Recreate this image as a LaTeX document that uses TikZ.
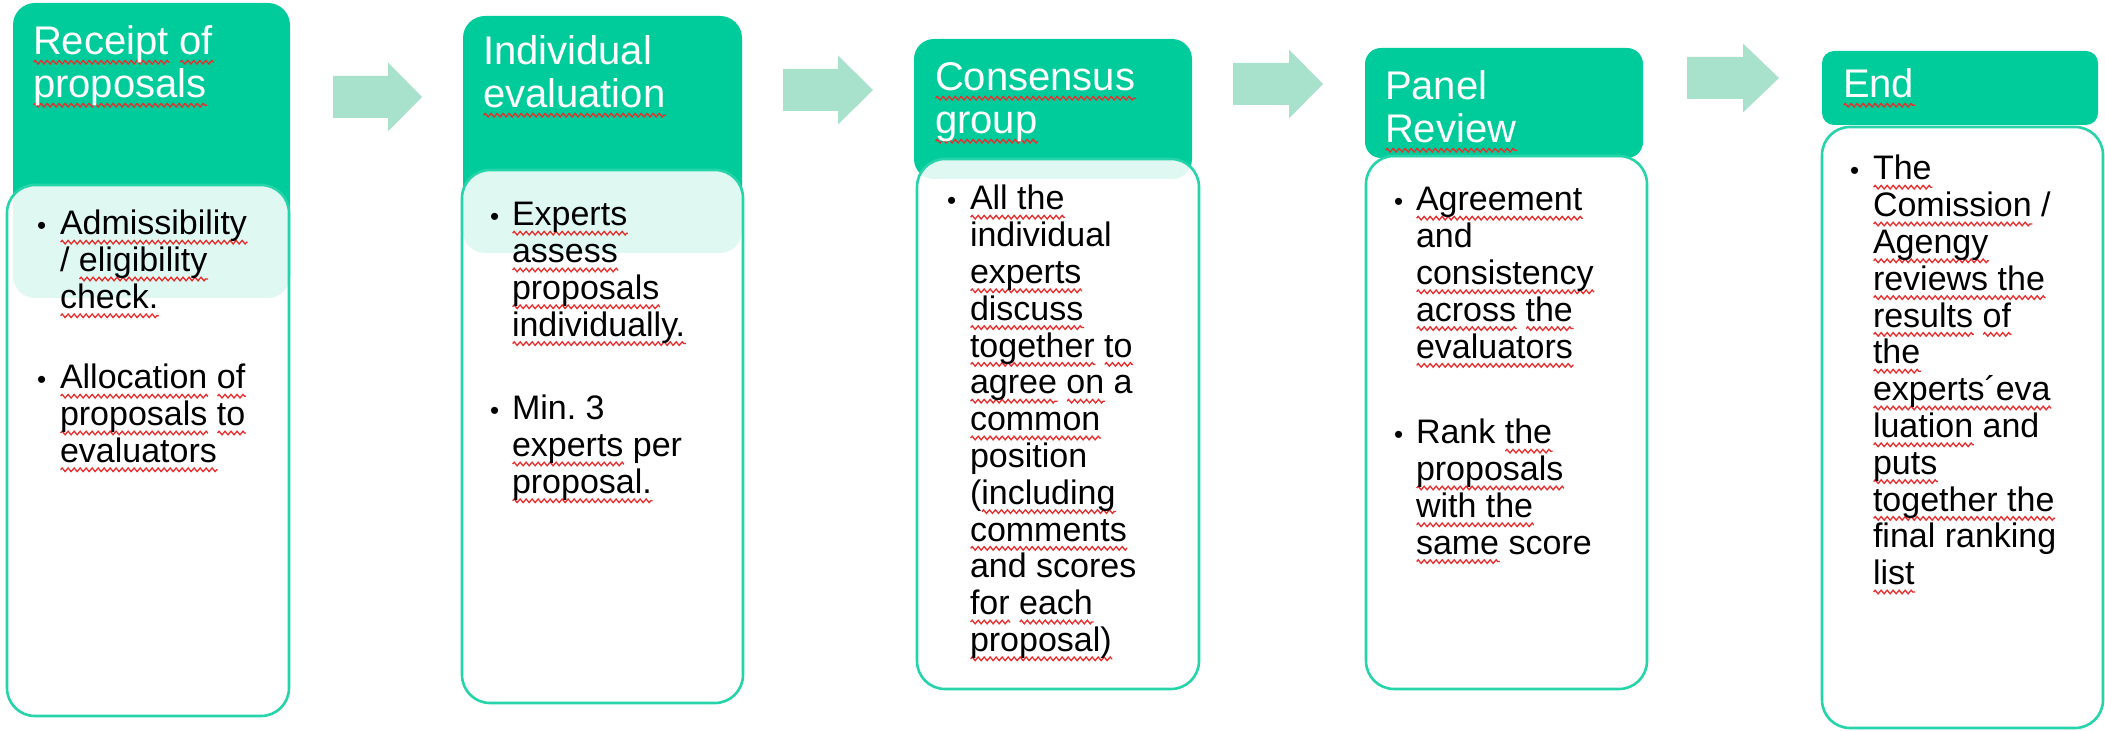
\documentclass[tikz,border=0pt]{standalone}
\usepackage{fontspec}
\setmainfont{Liberation Sans}
\usetikzlibrary{decorations.pathmorphing}
\definecolor{hdr}{RGB}{0,204,155}
\definecolor{edge}{RGB}{38,212,170}
\definecolor{arr}{RGB}{168,226,204}
\definecolor{sq}{RGB}{235,45,45}
\newlength\rwlen
\newcommand\rw[1]{\leavevmode\settowidth\rwlen{#1}\rlap{\tikz[baseline=0pt,x=1pt,y=1pt]\draw[sq,line width=0.65pt,decorate,decoration={zigzag,amplitude=0.9pt,segment length=3pt}] (0pt,-3.6pt) -- (\rwlen,-3.6pt);}#1}
\newcommand\txt[1]{\vtop{\hsize=200pt\parindent=0pt\parskip=0pt\raggedright\frenchspacing\leavevmode #1\par}}
\newcommand\barrow[4]{\fill[arr] (#1,#4-21) -- (#2,#4-21) -- (#2,#4-34.5) -- (#3,#4) -- (#2,#4+34.5) -- (#2,#4+21) -- (#1,#4+21) -- cycle;}
\tikzset{
  hdrbox/.style={fill=hdr},
  bodybox/.style={fill=white, fill opacity=0.88, draw=edge, draw opacity=1, line width=1.3pt, rounded corners=14pt},
  bodytext/.style={anchor=base west, inner sep=0pt, outer sep=0pt, text=black, font=\fontsize{17pt}{18.4pt}\selectfont},
  titletext/.style={anchor=base west, inner sep=0pt, outer sep=0pt, text=white, font=\fontsize{20pt}{21.5pt}\selectfont},
  bul/.style={anchor=base west, inner sep=0pt, outer sep=0pt, text=black, font=\fontsize{13pt}{13pt}\selectfont}
}
\begin{document}
\begin{tikzpicture}[x=0.5pt,y=-0.5pt]
\useasboundingbox (0,0) rectangle (2105,731);
% arrows
\barrow{333}{388}{422}{97}
\barrow{783}{838}{873}{90}
\barrow{1233}{1289}{1323}{84}
\barrow{1687}{1743}{1779}{78}
% box 1
\path[hdrbox, rounded corners=11pt] (13,3) rectangle (290,298);
\path[bodybox] (7,185) rectangle (289,716);
\node[titletext] (t1) at (33,55) {\txt{\rw{Receipt} \rw{of}\\\rw{proposals}}};
\node[bul] (b11) at (37,235) {•};
\node[bodytext] (p11) at (60,235) {\txt{\rw{Admissibility}\\/ \rw{eligibility}\\\rw{check.}}};
\node[bul] (b12) at (37,389) {•};
\node[bodytext] (p12) at (60,389) {\txt{\rw{Allocation} \rw{of}\\\rw{proposals} \rw{to}\\\rw{evaluators}}};
% box 2
\path[hdrbox, rounded corners=11pt] (463,16) rectangle (742,253);
\path[bodybox] (462,170) rectangle (743,703);
\node[titletext] (t2) at (483,65) {\txt{Individual\\\rw{evaluation}}};
\node[bul] (b21) at (490,226) {•};
\node[bodytext] (p21) at (512,226) {\txt{\rw{Experts}\\\rw{assess}\\\rw{proposals}\\\rw{individually.}}};
\node[bul] (b22) at (490,420) {•};
\node[bodytext] (p22) at (512,420) {\txt{Min. 3\\\rw{experts} per\\\rw{proposal.}}};
% box 3
\path[hdrbox, rounded corners=10pt] (914,39) rectangle (1192,179);
\path[bodybox] (917,159) rectangle (1199,689);
\node[titletext] (t3) at (935,91) {\txt{\rw{Consensus}\\\rw{group}}};
\node[bul] (b31) at (947,210) {•};
\node[bodytext] (p31) at (970,210) {\txt{\rw{All the}\\individual\\\rw{experts}\\\rw{discuss}\\\rw{together} \rw{to}\\\rw{agree} \rw{on} a\\\rw{common}\\position\\(\rw{including}\\\rw{comments}\\and scores\\\rw{for} \rw{each}\\\rw{proposal)}}};
% box 4
\path[hdrbox, rounded corners=8pt] (1365,48) rectangle (1643,158);
\path[bodybox] (1366,156) rectangle (1647,689);
\node[titletext] (t4) at (1385,100) {\txt{Panel\\\rw{Review}}};
\node[bul] (b41) at (1394,211) {•};
\node[bodytext] (p41) at (1416,211) {\txt{\rw{Agreement}\\and\\\rw{consistency}\\\rw{across} \rw{the}\\\rw{evaluators}}};
\node[bul] (b42) at (1394,444) {•};
\node[bodytext] (p42) at (1416,444) {\txt{Rank \rw{the}\\\rw{proposals}\\\rw{with the}\\\rw{same} score}};
% box 5
\path[hdrbox, rounded corners=6pt] (1822,51) rectangle (2098,125);
\path[bodybox] (1822,127) rectangle (2103,728);
\node[titletext] (t5) at (1843,98) {\txt{\rw{End}}};
\node[bul] (b51) at (1850,180) {•};
\node[bodytext] (p51) at (1873,180) {\txt{\rw{The}\\\rw{Comission} /\\\rw{Agengy}\\\rw{reviews the}\\\rw{results} \rw{of}\\\rw{the}\\\rw{experts´eva}\\\rw{luation} and\\\rw{puts}\\\rw{together the}\\final ranking\\\rw{list}}};
\end{tikzpicture}
\end{document}
